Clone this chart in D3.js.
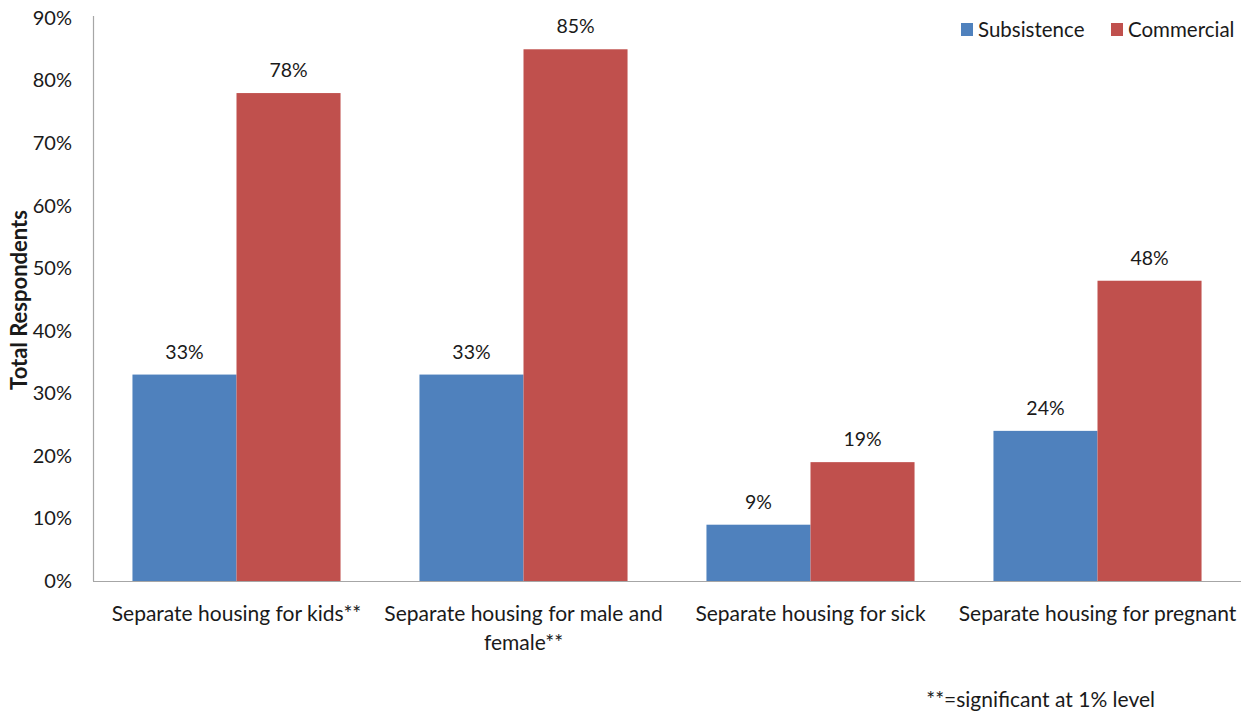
<!DOCTYPE html>
<html>
<head>
<meta charset="utf-8">
<script src="https://cdn.jsdelivr.net/npm/d3@7"></script>
<style>
  html, body { margin: 0; padding: 0; background: #fff; }
  svg { display: block; font-family: Lato, "Open Sans", sans-serif; }
</style>
</head>
<body>
<svg id="chart" width="1250" height="713"></svg>
<script>
// Housing practices by farm type (share of respondents)
const categories = [
  ["Separate housing for kids**"],
  ["Separate housing for male and", "female**"],
  ["Separate housing for sick"],
  ["Separate housing for pregnant"]
];
const seriesNames = ["Subsistence", "Commercial"];
const subsistence = [0.33, 0.33, 0.09, 0.24];
const commercial = [0.78, 0.85, 0.19, 0.48];
const yTicks = [0, 0.1, 0.2, 0.3, 0.4, 0.5, 0.6, 0.7, 0.8, 0.9];
const colors = ["#4F81BD", "#C0504D"];
const footnote = "**=significant at 1% level";

const svg = d3.select("#chart");
const margin = { left: 93, right: 9, top: 18, bottom: 132 };
const W = 1250, H = 713;
const plotW = W - margin.left - margin.right;
const plotH = H - margin.top - margin.bottom;
const textColor = "#1a1a1a";

const g = svg.append("g").attr("transform", `translate(${margin.left},${margin.top})`);

const x0 = d3.scaleBand().domain(d3.range(categories.length)).range([0, plotW]).paddingInner(0.275).paddingOuter(0.1375);
const x1 = d3.scaleBand().domain(seriesNames).range([0, x0.bandwidth()]);
const y = d3.scaleLinear().domain([0, 0.9]).range([plotH, 0]);

const rows = categories.map((c, i) => ({ i, values: [subsistence[i], commercial[i]] }));

// y axis
const yAxis = g.append("g").call(
  d3.axisLeft(y).tickValues(yTicks).tickFormat(d3.format(".0%")).tickSize(0).tickPadding(21)
);
yAxis.select(".domain").attr("stroke", "#a6a6a6").attr("stroke-width", 1.2).attr("d", `M0.5,${plotH}V-2`);
yAxis.selectAll("text").attr("font-size", 20).attr("fill", textColor).attr("font-family", "Lato, sans-serif");

// bars
const groups = g.selectAll(".grp").data(rows).join("g")
  .attr("transform", d => `translate(${x0(d.i)},0)`);

groups.selectAll("rect").data(d => d.values.map((v, k) => ({ v, k }))).join("rect")
  .attr("x", d => x1(seriesNames[d.k]))
  .attr("y", d => y(d.v))
  .attr("width", x1.bandwidth())
  .attr("height", d => plotH - y(d.v))
  .attr("fill", d => colors[d.k]);

groups.selectAll("text.val").data(d => d.values.map((v, k) => ({ v, k }))).join("text")
  .attr("class", "val")
  .attr("x", d => x1(seriesNames[d.k]) + x1.bandwidth() / 2)
  .attr("y", d => y(d.v) - 16)
  .attr("text-anchor", "middle")
  .attr("font-size", 19.5)
  .attr("fill", textColor)
  .text(d => d3.format(".0%")(d.v));

// x axis line
g.append("line")
  .attr("x1", 0).attr("x2", plotW)
  .attr("y1", plotH + 0.5).attr("y2", plotH + 0.5)
  .attr("stroke", "#a6a6a6").attr("stroke-width", 1.2);

// category labels
const catLabels = g.selectAll(".cat").data(categories).join("text")
  .attr("class", "cat")
  .attr("text-anchor", "middle")
  .attr("font-size", 21)
  .attr("fill", textColor)
  .attr("transform", (d, i) => `translate(${x0(i) + x0.bandwidth() / 2},${plotH + 40})`);
catLabels.selectAll("tspan").data(d => d).join("tspan")
  .attr("x", 0)
  .attr("dy", (d, j) => j === 0 ? 0 : 29)
  .text(d => d);

// y title
svg.append("text")
  .attr("transform", `translate(27,300) rotate(-90)`)
  .attr("text-anchor", "middle")
  .attr("font-size", 22)
  .attr("font-weight", "bold")
  .attr("fill", textColor)
  .text("Total Respondents");

// legend
const legend = svg.append("g").attr("transform", "translate(961,22)");
const legendX = [0, 150];
seriesNames.forEach((name, k) => {
  const lg = legend.append("g").attr("transform", `translate(${legendX[k]},0)`);
  lg.append("rect").attr("width", 12).attr("height", 13).attr("y", 1).attr("fill", colors[k]);
  lg.append("text").attr("x", 17).attr("y", 15).attr("font-size", 20.5).attr("fill", textColor).text(name);
});

// footnote
svg.append("text")
  .attr("x", 1155).attr("y", 707)
  .attr("text-anchor", "end")
  .attr("font-size", 21)
  .attr("fill", textColor)
  .text(footnote);
</script>
</body>
</html>
